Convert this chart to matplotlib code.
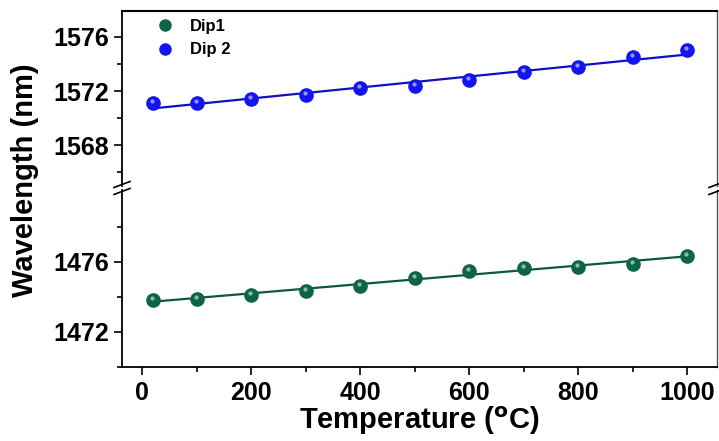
import numpy as np
import matplotlib
matplotlib.use("Agg")
import matplotlib.pyplot as plt
from matplotlib.ticker import MultipleLocator, FixedLocator
from matplotlib.transforms import ScaledTranslation

plt.rcParams['font.family'] = ['Liberation Sans', 'DejaVu Sans']
plt.rcParams['font.weight'] = 'bold'

# data
temperature = [20, 100, 200, 300, 400, 500, 600, 700, 800, 900, 1000]
dip1 = [1473.85, 1473.9, 1474.1, 1474.36, 1474.63, 1475.07, 1475.5, 1475.64, 1475.73, 1475.87, 1476.36]
dip2 = [1571.1, 1571.15, 1571.4, 1571.7, 1572.2, 1572.35, 1572.8, 1573.4, 1573.8, 1574.5, 1575.0]
top_ticks = [1568, 1572, 1576]
top_minor = [1566, 1570, 1574]
bot_ticks = [1472, 1476]
bot_minor = [1470, 1474, 1478]

green = '#0e6446'
green_line = '#0b5a3e'
blue = '#1414f0'
blue_line = '#1010c0'

fig = plt.figure(figsize=(7.19, 4.41), dpi=100)
W, H = 719, 441
left, right = 122 / W, 717 / W
ax_top = fig.add_axes([left, 1 - 186 / H, right - left, 175 / H])
ax_bot = fig.add_axes([left, 1 - 367 / H, right - left, 177 / H], sharex=ax_top)


def ball(ax, x, y, c, lc):
    t = np.array(x, dtype=float)
    k, b = np.polyfit(t, y, 1)
    ax.plot(t, k * t + b, color=lc, lw=1.6, zorder=2)
    ax.plot(x, y, 'o', ms=9.5, color=c, mec=c, zorder=3)
    off = ScaledTranslation(-0.6 / 72, 1.4 / 72, fig.dpi_scale_trans)
    ax.plot(x, y, 'o', ms=3, color='white', mec='none', alpha=0.55,
            transform=ax.transData + off, zorder=4)


ball(ax_top, temperature, dip2, blue, blue_line)
ball(ax_bot, temperature, dip1, green, green_line)

ax_top.set_ylim(1565.0, 1577.9)
ax_bot.set_ylim(1470.0, 1480.1)
ax_bot.set_xlim(-37, 1055)

ax_top.yaxis.set_major_locator(FixedLocator(top_ticks))
ax_top.yaxis.set_minor_locator(FixedLocator(top_minor))
ax_bot.yaxis.set_major_locator(FixedLocator(bot_ticks))
ax_bot.yaxis.set_minor_locator(FixedLocator(bot_minor))

for ax in (ax_top, ax_bot):
    ax.tick_params(axis='y', which='major', direction='out', length=6, width=1.2,
                   labelsize=18, pad=3)
    ax.tick_params(axis='y', which='minor', direction='out', length=3.5, width=1.2)
    for lab in ax.get_yticklabels():
        lab.set_fontweight('bold')
    ax.spines['left'].set_linewidth(1.3)
    ax.spines['right'].set_linewidth(1.0)
    ax.spines['right'].set_color('#555555')

ax_top.spines['bottom'].set_visible(False)
ax_top.spines['top'].set_linewidth(1.5)
ax_top.tick_params(axis='x', which='both', bottom=False, labelbottom=False)
ax_bot.spines['top'].set_visible(False)
ax_bot.spines['bottom'].set_linewidth(1.3)

ax_bot.xaxis.set_major_locator(MultipleLocator(200))
ax_bot.xaxis.set_minor_locator(MultipleLocator(100))
ax_bot.tick_params(axis='x', which='major', direction='out', length=6, width=1.2,
                   labelsize=18, pad=4)
ax_bot.tick_params(axis='x', which='minor', direction='out', length=3.5, width=1.2)

ax_bot.set_xlabel('Temperature ($\\mathbf{^{o}}$C)', fontsize=21, fontweight='bold', labelpad=0)
fig.text(0.035, 1 - 180 / H, 'Wavelength (nm)', rotation=90,
         fontsize=21, fontweight='bold', ha='center', va='center')

# break marks on left and right spines
yb = 1 - 188 / H
for xs in (left, right):
    for dy in (-3.5 / H, 3.5 / H):
        fig.add_artist(plt.Line2D([xs - 8 / W, xs + 8 / W], [yb + dy - 3 / H, yb + dy + 3 / H],
                                  color='black', lw=1.2, transform=fig.transFigure))

# legend
h1, = ax_top.plot([], [], 'o', ms=8, color=green, mec=green)
h2, = ax_top.plot([], [], 'o', ms=8, color=blue, mec=blue)
ax_top.legend([h1, h2], ['Dip1', 'Dip 2'], loc='upper left', frameon=False,
              bbox_to_anchor=(0.025, 1.04), prop={'size': 12, 'weight': 'bold'},
              handletextpad=0.7, labelspacing=0.5, handlelength=1.6)

fig.savefig('out.png', dpi=100)
